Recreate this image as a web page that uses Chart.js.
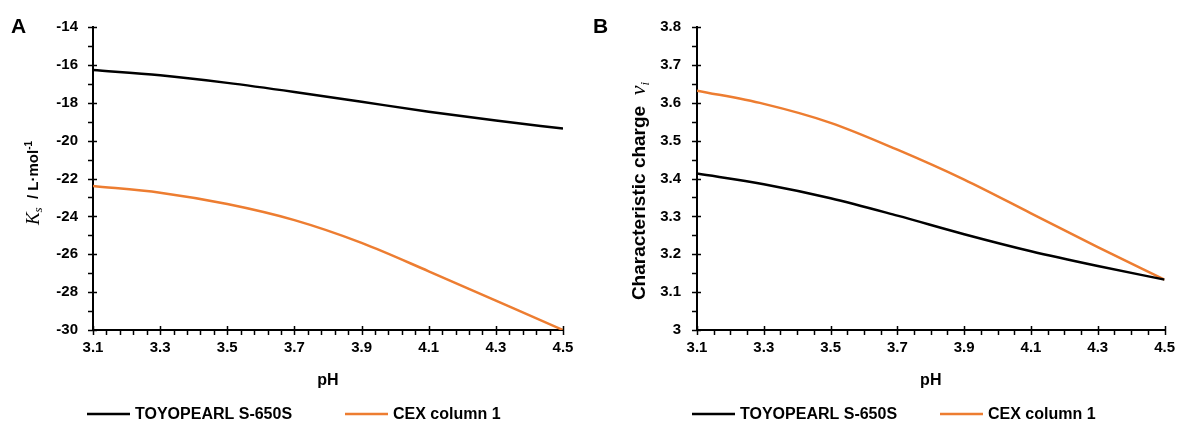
<!DOCTYPE html>
<html>
<head>
<meta charset="utf-8">
<script src="https://cdn.jsdelivr.net/npm/chart.js@4.4.1/dist/chart.umd.min.js"></script>
<style>
  body { margin: 0; background: #fff; }
  .wrap { position: relative; width: 1184px; height: 425px; }
  .panel { position: absolute; top: 0; width: 592px; height: 425px; }
</style>
</head>
<body>
<div class="wrap">
  <div class="panel" style="left:0"><canvas id="chartA" width="592" height="425"></canvas></div>
  <div class="panel" style="left:592px"><canvas id="chartB" width="592" height="425"></canvas></div>
</div>

<script>
// pH grid shared by both panels
const phValues = [3.1, 3.3, 3.5, 3.7, 3.9, 4.1, 4.3, 4.5];
const phTicks = [3.1, 3.3, 3.5, 3.7, 3.9, 4.1, 4.3, 4.5];

// A: Ks in L/mol
const ksToyopearl = [-16.27, -16.55, -16.95, -17.43, -17.95, -18.47, -18.94, -19.36];
const ksCex = [-22.4, -22.75, -23.35, -24.2, -25.4, -26.9, -28.45, -30.0];
const ksTicks = [-30, -28, -26, -24, -22, -20, -18, -16, -14];

// B: characteristic charge
const nuToyopearl = [3.413, 3.385, 3.348, 3.302, 3.253, 3.208, 3.169, 3.133];
const nuCex = [3.632, 3.597, 3.547, 3.476, 3.397, 3.308, 3.219, 3.133];
const nuTicks = [3, 3.1, 3.2, 3.3, 3.4, 3.5, 3.6, 3.7, 3.8];

const seriesNames = ['TOYOPEARL S-650S', 'CEX column 1'];
const seriesColors = ['#000000', '#ED7D31'];

const SANS = '"Liberation Sans", Arial, sans-serif';
const SERIF = '"Liberation Serif", "Times New Roman", serif';
const tickFont = { family: SANS, size: 15, weight: 'bold' };

function toPoints(ys) {
  return phValues.map((x, i) => ({ x: x, y: ys[i] }));
}

function fmt(v) {
  return String(Number(v.toFixed(2)));
}

function drawRotatedRich(ctx, cx, cy, parts) {
  ctx.save();
  ctx.translate(cx, cy);
  ctx.rotate(-Math.PI / 2);
  let total = 0;
  parts.forEach(p => { ctx.font = p.font; p.w = ctx.measureText(p.text).width; total += p.w; });
  let x = -total / 2;
  ctx.textAlign = 'left';
  ctx.textBaseline = 'alphabetic';
  ctx.fillStyle = '#000';
  parts.forEach(p => { ctx.font = p.font; ctx.fillText(p.text, x, p.dy); x += p.w; });
  ctx.restore();
}

function onStep(v, start, step) {
  const k = (v - start) / step;
  return Math.abs(k - Math.round(k)) < 1e-6;
}

// tick marks (major cross, minor outside), titles, panel letter, legend
const panelDecor = {
  id: 'panelDecor',
  afterDraw(chart, args, o) {
    const ctx = chart.ctx;
    const xs = chart.scales.x, ys = chart.scales.y;
    const area = chart.chartArea;
    ctx.save();
    ctx.strokeStyle = '#000';
    ctx.lineWidth = 1.5;
    ctx.beginPath();
    const nx = Math.round((xs.max - xs.min) / o.xMinor);
    for (let i = 0; i <= nx; i++) {
      const v = xs.min + i * o.xMinor;
      const px = Math.round(xs.getPixelForValue(v)) + 0.5;
      const major = onStep(v, xs.min, o.xMajor);
      ctx.moveTo(px, area.bottom + (major ? -4 : 0));
      ctx.lineTo(px, area.bottom + 5);
    }
    const ny = Math.round((ys.max - ys.min) / o.yMinor);
    for (let i = 0; i <= ny; i++) {
      const v = ys.min + i * o.yMinor;
      const py = Math.round(ys.getPixelForValue(v)) + 0.5;
      const major = onStep(v, ys.min, o.yMajor);
      ctx.moveTo(area.left - 5, py);
      ctx.lineTo(area.left + (major ? 4 : 0), py);
    }
    ctx.stroke();

    // panel letter
    ctx.fillStyle = '#000';
    ctx.font = 'bold 21px ' + SANS;
    ctx.textAlign = 'left';
    ctx.textBaseline = 'alphabetic';
    ctx.fillText(o.letter, o.letterX, 33);

    // x title
    ctx.font = 'bold 16px ' + SANS;
    ctx.textAlign = 'center';
    ctx.textBaseline = 'middle';
    ctx.fillText('pH', (area.left + area.right) / 2, 381);

    drawRotatedRich(ctx, o.yTitleX, o.yTitleY, o.yTitle);

    // legend
    ctx.textAlign = 'left';
    ctx.textBaseline = 'middle';
    ctx.font = 'bold 16px ' + SANS;
    chart.data.datasets.forEach((ds, i) => {
      const x0 = o.legendX + i * o.legendGap;
      ctx.strokeStyle = ds.borderColor;
      ctx.lineWidth = 2.5;
      ctx.beginPath();
      ctx.moveTo(x0, o.legendY);
      ctx.lineTo(x0 + 43, o.legendY);
      ctx.stroke();
      ctx.fillStyle = '#000';
      ctx.fillText(ds.label, x0 + 48, o.legendY + 1);
    });
    ctx.restore();
  }
};

function makeChart(id, series, yMin, yMax, yTicks, pad, yWidth, yPad, decor) {
  return new Chart(document.getElementById(id), {
    type: 'line',
    data: {
      datasets: series.map((ys, i) => ({
        label: seriesNames[i],
        data: toPoints(ys),
        borderColor: seriesColors[i],
        backgroundColor: seriesColors[i],
        borderWidth: 2.5,
        pointRadius: 0,
        cubicInterpolationMode: 'monotone',
        fill: false
      }))
    },
    options: {
      responsive: false,
      devicePixelRatio: 1,
      animation: false,
      layout: { padding: pad },
      plugins: {
        legend: { display: false },
        tooltip: { enabled: false },
        panelDecor: decor
      },
      scales: {
        x: {
          type: 'linear',
          min: 3.1,
          max: 4.5,
          afterBuildTicks: s => { s.ticks = phTicks.map(v => ({ value: v })); },
          afterFit: s => { s.height = 95; },
          grid: { display: false, drawTicks: false },
          border: { display: true, color: '#000', width: 2 },
          ticks: {
            font: tickFont, color: '#000', padding: 9,
            maxRotation: 0, autoSkip: false,
            callback: v => v.toFixed(1)
          }
        },
        y: {
          type: 'linear',
          min: yMin,
          max: yMax,
          afterBuildTicks: s => { s.ticks = yTicks.map(v => ({ value: v })); },
          afterFit: s => { s.width = yWidth; },
          grid: { display: false, drawTicks: false },
          border: { display: true, color: '#000', width: 2 },
          ticks: {
            font: tickFont, color: '#000', padding: yPad,
            autoSkip: false,
            callback: v => fmt(v)
          }
        }
      }
    },
    plugins: [panelDecor]
  });
}

makeChart('chartA', [ksToyopearl, ksCex], -30, -14, ksTicks,
  { left: 0, right: 29, top: 27, bottom: 0 }, 93, 15, {
    letter: 'A', letterX: 11,
    xMinor: 0.04, xMajor: 0.2, yMinor: 1, yMajor: 2,
    yTitleX: 33, yTitleY: 183,
    yTitle: [
      { text: 'K', font: 'italic 19px ' + SERIF, dy: 6 },
      { text: 's', font: 'italic 13px ' + SERIF, dy: 9 },
      { text: '  / L·mol', font: 'bold 15px ' + SANS, dy: 5 },
      { text: '-1', font: 'bold 10px ' + SANS, dy: -1 }
    ],
    legendX: 87, legendGap: 258, legendY: 414
  });

makeChart('chartB', [nuToyopearl, nuCex], 3, 3.8, nuTicks,
  { left: 0, right: 14, top: 27, bottom: 0 }, 105, 16, {
    letter: 'B', letterX: 1,
    xMinor: 0.05, xMajor: 0.2, yMinor: 0.05, yMajor: 0.1,
    yTitleX: 47, yTitleY: 191,
    yTitle: [
      { text: 'Characteristic charge  ', font: 'bold 19px ' + SANS, dy: 6 },
      { text: 'ν', font: 'italic 22px ' + SERIF, dy: 6 },
      { text: 'i', font: 'italic 13px ' + SERIF, dy: 10 }
    ],
    legendX: 100, legendGap: 248, legendY: 414
  });
</script>
</body>
</html>
